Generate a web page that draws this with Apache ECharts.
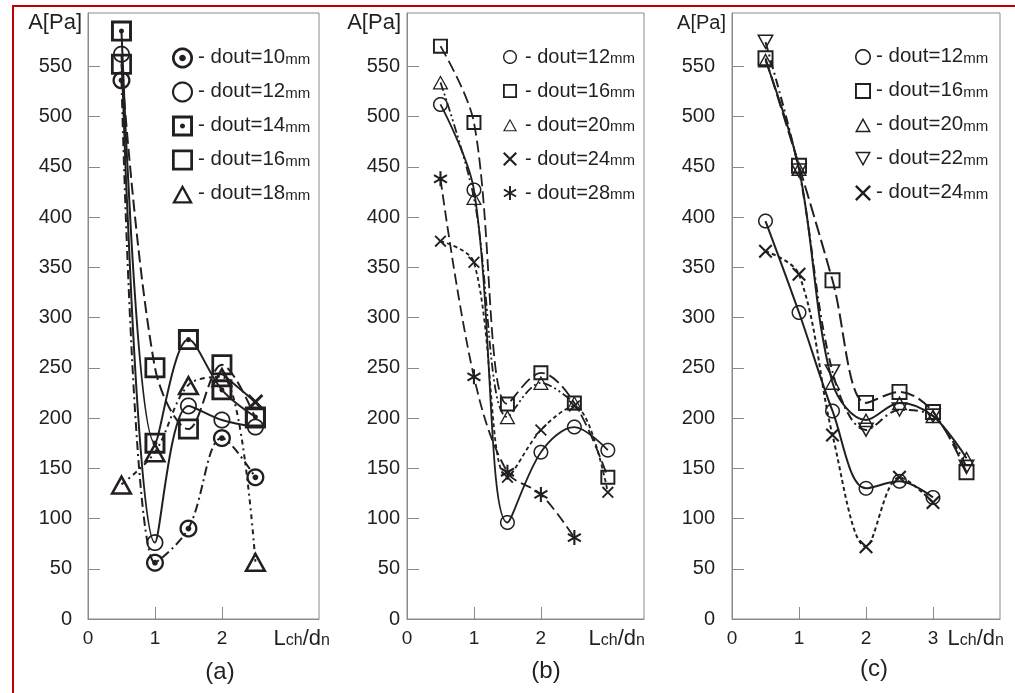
<!DOCTYPE html>
<html><head><meta charset="utf-8">
<script src="https://cdn.jsdelivr.net/npm/echarts@6/dist/echarts.min.js"></script>
<style>html,body{margin:0;padding:0;background:#fff}#c{width:1015px;height:693px}</style>
</head><body><div id="c"></div>
<script>
// ---------------- DATA ----------------
const yTicks = [0, 50, 100, 150, 200, 250, 300, 350, 400, 450, 500, 550];
const xTicksAB = [0, 1, 2];
const xTicksC = [0, 1, 2, 3];
const panelLabels = ['(a)', '(b)', '(c)'];

// panel (a): Lch/dn positions
const xA = [0.5, 1, 1.5, 2, 2.5];
const a_d10 = [536, 56, 90, 180, 141];
const a_d12 = [562, 76, 212, 198, 191];
const a_d14 = [585, 175, 278, 228, 201];
const a_d16 = [552, 250, 189, 253, 200];
const a_d18 = [134, 166, 233, 241, 57];
const a_extraX = [2, 2.5];
const a_extraY = [244, 216];

// panel (b)
const xB = [0.5, 1, 1.5, 2, 2.5, 3];
const b_d12 = [512, 427, 96, 166, 191, 168];
const b_d16 = [570, 494, 214, 245, 215, 141];
const b_d20 = [534, 419, 201, 235, 215];
const b_d24 = [376, 355, 141, 188, 212, 126];
const b_d28 = [438, 241, 146, 124, 81];

// panel (c)
const xC = [0.5, 1, 1.5, 2, 2.5, 3, 3.5];
const c_d12 = [396, 305, 207, 130, 137, 121];
const c_d16 = [558, 451, 337, 215, 226, 206, 146];
const c_d20 = [556, 448, 235, 198, 215, 202, 160];
const c_d22 = [574, 446, 246, 188, 208, 202, 151];
const c_d24 = [366, 343, 183, 72, 141, 116];

// ---------------- STYLE ----------------
const INK = '#231f20';
const FRAME = '#8a8a8a';
const FONT = '"Liberation Sans", Arial, sans-serif';

// symbol path builders (filled outlines)
function poly(pts) { return 'M' + pts.map(p => p[0].toFixed(2) + ',' + p[1].toFixed(2)).join(' L') + ' Z'; }
function circlePts(r, n, rev) {
  const out = [];
  for (let i = 0; i < n; i++) {
    const a = (rev ? -1 : 1) * i / n * Math.PI * 2;
    out.push([r * Math.sin(a), -r * Math.cos(a)]);
  }
  return out;
}
function ringCircle(t, dot) {
  let p = poly(circlePts(10, 48, false)) + ' ' + poly(circlePts(10 - t, 48, true));
  if (dot) p += ' ' + poly(circlePts(dot, 16, false));
  return 'path://' + p;
}
function ringSquare(t, dot) {
  const o = [[-10, -10], [10, -10], [10, 10], [-10, 10]];
  const s = 10 - t;
  const i = [[-s, -s], [-s, s], [s, s], [s, -s]];
  let p = poly(o) + ' ' + poly(i);
  if (dot) p += ' ' + poly(circlePts(dot, 16, false));
  return 'path://' + p;
}
function ringTri(t, flip) {
  let o = [[0, -10], [10, 8], [-10, 8]];
  if (flip) o = o.map(p => [p[0], -p[1]]);
  const d = (p, q) => Math.hypot(p[0] - q[0], p[1] - q[1]);
  const a = d(o[1], o[2]), b = d(o[0], o[2]), c = d(o[0], o[1]);
  const per = a + b + c;
  const I = [(a * o[0][0] + b * o[1][0] + c * o[2][0]) / per, (a * o[0][1] + b * o[1][1] + c * o[2][1]) / per];
  const area = Math.abs((o[1][0] - o[0][0]) * (o[2][1] - o[0][1]) - (o[2][0] - o[0][0]) * (o[1][1] - o[0][1])) / 2;
  const r = 2 * area / per;
  const k = (r - t) / r;
  const inner = o.map(p => [I[0] + (p[0] - I[0]) * k, I[1] + (p[1] - I[1]) * k]).reverse();
  return 'path://' + poly(o) + ' ' + poly(inner);
}
function bar(deg, len, h) {
  const a = deg * Math.PI / 180, dx = Math.cos(a), dy = Math.sin(a), nx = -dy, ny = dx;
  return poly([[-len * dx + h * nx, -len * dy + h * ny], [len * dx + h * nx, len * dy + h * ny],
               [len * dx - h * nx, len * dy - h * ny], [-len * dx - h * nx, -len * dy - h * ny]]);
}
function cross(h) { return 'path://' + bar(45, 10, h) + ' ' + bar(135, 10, h); }
function star(h) { return 'path://' + bar(90, 10, h) + ' ' + bar(30, 10, h) + ' ' + bar(150, 10, h); }

const DASH = {
  solid: 'solid',
  longDash: [12, 5],
  dashDot: [9, 4, 2, 4],
  shortDashDot: [5, 4, 2, 4],
  dashDotDot: [9, 3, 2, 3, 2, 3],
  shortDash: [4, 3],
  dotted: [3, 3]
};

function pairs(xs, ys) { return ys.map((v, i) => [xs[i], v]); }

function mk(name, idx, xs, ys, sym, size, dash, width) {
  return {
    type: 'line', name: name, xAxisIndex: idx, yAxisIndex: idx,
    data: pairs(xs, ys), symbol: sym, symbolSize: size, symbolKeepAspect: true,
    smooth: 0.35, silent: true, animation: false, clip: false,
    lineStyle: { color: INK, width: width, type: dash },
    itemStyle: { color: INK, borderWidth: 0 },
    emphasis: { disabled: true }
  };
}

// symbols per panel
const SA = { c10: ringCircle(2.6, 3.2), c12: ringCircle(2.0), s14: ringSquare(2.8, 2.4), s16: ringSquare(2.6), t18: ringTri(2.2) };
const SB = { c: ringCircle(2.0), s: ringSquare(2.6), t: ringTri(1.6), x: cross(1.2), st: star(1.4) };
const SC = { c: ringCircle(2.0), s: ringSquare(2.4), t: ringTri(1.8), v: ringTri(1.8, true), x: cross(1.2) };

const series = [
  // (a)
  mk('dout=10mm (a)', 0, xA, a_d10, SA.c10, 18, DASH.dashDot, 2),
  mk('dout=12mm (a)', 0, xA, a_d12, SA.c12, 17, DASH.solid, 2),
  mk('dout=14mm (a)', 0, xA, a_d14, SA.s14, 21, DASH.solid, 2),
  mk('dout=16mm (a)', 0, xA, a_d16, SA.s16, 21, DASH.longDash, 2),
  mk('dout=18mm (a)', 0, xA, a_d18, SA.t18, 23, DASH.shortDashDot, 2),
  Object.assign(mk('extra (a)', 0, a_extraX, a_extraY, cross(1.5), 16, DASH.solid, 2),
    { data: [{ value: [a_extraX[0], a_extraY[0]], symbol: 'none' }, { value: [a_extraX[1], a_extraY[1]] }] }),
  // (b)
  mk('dout=12mm (b)', 1, xB, b_d12, SB.c, 15, DASH.solid, 1.8),
  mk('dout=16mm (b)', 1, xB, b_d16, SB.s, 15, DASH.longDash, 1.8),
  mk('dout=20mm (b)', 1, xB, b_d20, SB.t, 16, DASH.dashDotDot, 1.8),
  mk('dout=24mm (b)', 1, xB, b_d24, SB.x, 12, DASH.shortDash, 1.8),
  mk('dout=28mm (b)', 1, xB, b_d28, SB.st, 15, [11, 5], 1.8),
  // (c)
  mk('dout=12mm (c)', 2, xC, c_d12, SC.c, 15, DASH.solid, 2),
  mk('dout=16mm (c)', 2, xC, c_d16, SC.s, 16, [14, 5], 2),
  mk('dout=20mm (c)', 2, xC, c_d20, SC.t, 16, DASH.solid, 2),
  mk('dout=22mm (c)', 2, xC, c_d22, SC.v, 17, DASH.dashDot, 2),
  mk('dout=24mm (c)', 2, xC, c_d24, SC.x, 14, DASH.shortDash, 2)
];

const panels = [
  { left: 88, width: 231, xmax: 3.45, xl: xTicksAB, ylm: 16, ngx: 11, ny: 22, lx: 220, ly: 672 },
  { left: 407, width: 237, xmax: 3.54, xl: xTicksAB, ylm: 7, ngx: 1, ny: 22, lx: 546, ly: 671 },
  { left: 732, width: 268, xmax: 4.0, xl: xTicksC, ylm: 17, ngx: 4, ny: 20, lx: 874, ly: 669 }
];

const grid = panels.map(p => ({ left: p.left, top: 13, width: p.width, height: 606, show: true,
  borderColor: FRAME, borderWidth: 1, backgroundColor: 'transparent', containLabel: false }));

const xAxis = panels.map((p, i) => ({
  type: 'value', gridIndex: i, min: 0, max: p.xmax, interval: 1,
  splitLine: { show: false },
  axisLine: { lineStyle: { color: FRAME, width: 1 } },
  axisTick: { inside: true, length: 12, lineStyle: { color: FRAME }, customValues: p.xl.filter(v => v > 0) },
  axisLabel: { customValues: p.xl, color: INK, fontSize: 19, fontFamily: FONT, margin: 10 },
  name: '{L|L}{s|ch}{L|/d}{s|n}', nameLocation: 'end', nameGap: p.ngx,
  nameTextStyle: {
    align: 'right', verticalAlign: 'top', padding: [7, 0, 0, 0],
    rich: {
      L: { fontSize: 22, fontFamily: FONT, color: INK, lineHeight: 24, verticalAlign: 'bottom' },
      s: { fontSize: 16, fontFamily: FONT, color: INK, lineHeight: 24, verticalAlign: 'bottom', padding: [0, 0, 1, 0] }
    }
  }
}));

const yAxis = panels.map((p, i) => ({
  type: 'value', gridIndex: i, min: 0, max: 603, interval: 50,
  splitLine: { show: false },
  axisLine: { show: true, lineStyle: { color: FRAME, width: 1 } },
  axisTick: { show: true, inside: true, length: 12, lineStyle: { color: FRAME }, customValues: yTicks },
  axisLabel: { customValues: yTicks, color: INK, fontSize: 20, fontFamily: FONT, margin: p.ylm },
  name: 'A[Pa]', nameLocation: 'end', nameGap: -10,
  nameTextStyle: { align: 'right', verticalAlign: 'middle', fontSize: p.ny, fontFamily: FONT, color: INK, padding: [0, 6, 0, 0] }
}));

function legendFor(names, icons, left, top, size, gap, fs, padL) {
  return {
    orient: 'vertical', left: left, top: top, padding: 0, itemWidth: size, itemHeight: size, itemGap: gap,
    selectedMode: false, symbolKeepAspect: true,
    data: names.map((n, i) => ({ name: n, icon: icons[i] })),
    formatter: function (name) {
      const m = name.match(/=(\d+)mm/);
      return '{t|- dout=' + m[1] + '}{m|mm}';
    },
    textStyle: {
      color: INK, fontFamily: FONT, fontSize: fs,
      rich: {
        t: { fontSize: fs, fontFamily: FONT, color: INK, lineHeight: 20, verticalAlign: 'bottom', padding: [0, 0, 0, padL] },
        m: { fontSize: 15, fontFamily: FONT, color: INK, lineHeight: 20, verticalAlign: 'bottom', padding: [0, 0, 1, 0] }
      }
    }
  };
}

const legend = [
  legendFor(['dout=10mm (a)', 'dout=12mm (a)', 'dout=14mm (a)', 'dout=16mm (a)', 'dout=18mm (a)'],
    [SA.c10, SA.c12, SA.s14, SA.s16, SA.t18], 172, 47, 21, 12.5, 20.5, 0),
  legendFor(['dout=12mm (b)', 'dout=16mm (b)', 'dout=20mm (b)', 'dout=24mm (b)', 'dout=28mm (b)'],
    [SB.c, SB.s, SB.t, SB.x, SB.st], 503, 47, 14, 14, 20, 3),
  legendFor(['dout=12mm (c)', 'dout=16mm (c)', 'dout=20mm (c)', 'dout=22mm (c)', 'dout=24mm (c)'],
    [SC.c, SC.s, SC.t, SC.v, SC.x], 855, 46, 16, 13, 20.5, 0)
];

const graphic = [
  { type: 'line', shape: { x1: 12, y1: 6, x2: 1015, y2: 6 }, style: { stroke: '#c00000', lineWidth: 2 }, silent: true },
  { type: 'line', shape: { x1: 13, y1: 5, x2: 13, y2: 693 }, style: { stroke: '#c00000', lineWidth: 2 }, silent: true }
].concat(panels.map((p, i) => ({
  type: 'text', x: p.lx, y: p.ly, silent: true,
  style: { text: panelLabels[i], font: '24px ' + FONT, fill: INK, align: 'center', verticalAlign: 'middle' }
})));

const chart = echarts.init(document.getElementById('c'), null, { renderer: 'canvas' });
chart.setOption({
  backgroundColor: '#fff', animation: false,
  grid: grid, xAxis: xAxis, yAxis: yAxis, legend: legend, series: series, graphic: graphic
});
</script></body></html>
